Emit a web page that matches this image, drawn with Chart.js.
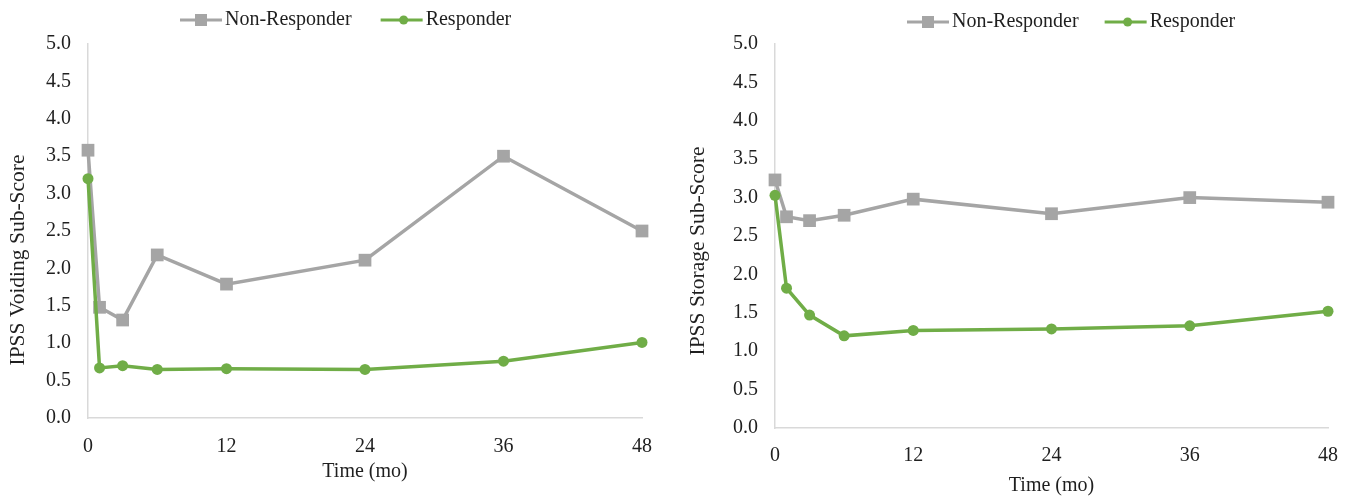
<!DOCTYPE html>
<html>
<head>
<meta charset="utf-8">
<script src="https://cdn.jsdelivr.net/npm/chart.js@4.4.0/dist/chart.umd.min.js"></script>
<style>
    body { margin: 0; background: #fff; }
    .painel { position: absolute; top: 0; }
</style>
</head>
<body>
<div class="painel" style="left:0px"><canvas id="grafVoiding" width="680" height="498"></canvas></div>
<div class="painel" style="left:680px"><canvas id="grafStorage" width="675" height="498"></canvas></div>
<script>
const meses = [0, 1, 3, 6, 12, 24, 36, 48];
const ticksX = [0, 12, 24, 36, 48];
const ticksY = [0, 0.5, 1, 1.5, 2, 2.5, 3, 3.5, 4, 4.5, 5];

const voidingNaoResp = [3.58, 1.48, 1.31, 2.18, 1.79, 2.11, 3.50, 2.50];
const voidingResp = [3.20, 0.67, 0.70, 0.65, 0.66, 0.65, 0.76, 1.01];

const storageNaoResp = [3.23, 2.75, 2.70, 2.77, 2.98, 2.79, 3.00, 2.94];
const storageResp = [3.03, 1.82, 1.47, 1.20, 1.27, 1.29, 1.33, 1.52];

const CINZA = '#A5A5A5';
const VERDE = '#70AD47';
const TEXTO = '#1F1F1F';
const FONTE = '"Liberation Serif", "Times New Roman", serif';

// legenda com linha + marcador e titulo do eixo y (posicao livre)
const extras = {
    id: 'extras',
    afterDraw(chart, args, opts) {
        const ctx = chart.ctx;
        ctx.save();
        ctx.font = '20px ' + FONTE;
        ctx.textBaseline = 'middle';
        let x = opts.legX;
        const y = opts.legY;
        chart.data.datasets.forEach(function (ds) {
            ctx.strokeStyle = ds.borderColor;
            ctx.lineWidth = 3;
            ctx.beginPath();
            ctx.moveTo(x, y);
            ctx.lineTo(x + 42, y);
            ctx.stroke();
            ctx.fillStyle = ds.borderColor;
            if (ds.pointStyle === 'rect') {
                ctx.fillRect(x + 21 - 6, y - 6, 12, 12);
            } else {
                ctx.beginPath();
                ctx.arc(x + 23, y, 4.5, 0, Math.PI * 2);
                ctx.fill();
            }
            ctx.fillStyle = TEXTO;
            ctx.textAlign = 'left';
            ctx.fillText(ds.label, x + 45, y);
            x += 45 + ctx.measureText(ds.label).width + opts.legGap;
        });

        ctx.font = '21.5px ' + FONTE;
        ctx.translate(18, opts.tituloYc);
        ctx.rotate(-Math.PI / 2);
        ctx.textAlign = 'center';
        ctx.fillText(opts.tituloY, 0, 0);
        ctx.restore();
    }
};

function criarGrafico(id, naoResp, resp, cfg) {
    new Chart(document.getElementById(id), {
        type: 'line',
        data: {
            labels: meses,
            datasets: [{
                label: 'Non-Responder',
                data: meses.map((m, i) => ({ x: m, y: naoResp[i] })),
                borderColor: CINZA,
                backgroundColor: CINZA,
                borderWidth: 3.5,
                pointStyle: 'rect',
                pointRadius: 9,
                pointBorderWidth: 0,
                order: 1,
                clip: false
            },
            {
                label: 'Responder',
                data: meses.map((m, i) => ({ x: m, y: resp[i] })),
                borderColor: VERDE,
                backgroundColor: VERDE,
                borderWidth: 3.5,
                pointStyle: 'circle',
                pointRadius: 5.5,
                pointBorderWidth: 0,
                order: 0,
                clip: false
            }]
        },
        options: {
            responsive: false,
            animation: false,
            layout: { padding: { left: 0, right: cfg.dir, top: 44, bottom: 0 } },
            plugins: {
                legend: { display: false },
                tooltip: { enabled: false },
                extras: cfg.extras
            },
            scales: {
                x: {
                    type: 'linear',
                    min: 0,
                    max: 48,
                    afterBuildTicks: function (s) { s.ticks = ticksX.map(v => ({ value: v })); },
                    afterFit: function (s) { s.height = cfg.altX; },
                    grid: { display: false, drawTicks: false },
                    border: { display: true, color: '#D9D9D9', width: 1.5 },
                    ticks: { padding: cfg.padTickX, color: TEXTO, font: { family: FONTE, size: 20 } },
                    title: {
                        display: true,
                        text: 'Time (mo)',
                        color: TEXTO,
                        font: { family: FONTE, size: 20 },
                        padding: { top: 0, bottom: cfg.padTitulo }
                    }
                },
                y: {
                    min: 0,
                    max: 5,
                    afterBuildTicks: function (s) { s.ticks = ticksY.map(v => ({ value: v })); },
                    afterFit: function (s) { s.width = cfg.largY; },
                    grid: { display: false, drawTicks: false },
                    border: { display: true, color: '#D9D9D9', width: 1.5 },
                    ticks: {
                        padding: 17,
                        color: TEXTO,
                        font: { family: FONTE, size: 20 },
                        callback: v => v.toFixed(1)
                    }
                }
            }
        },
        plugins: [extras]
    });
}

criarGrafico('grafVoiding', voidingNaoResp, voidingResp, {
    dir: 38, altX: 80, largY: 88, padTitulo: 14, padTickX: 17,
    extras: { legX: 180, legY: 20, legGap: 29, tituloY: 'IPSS Voiding Sub-Score', tituloYc: 260 }
});

criarGrafico('grafStorage', storageNaoResp, storageResp, {
    dir: 27, altX: 70, largY: 95, padTitulo: 0, padTickX: 16,
    extras: { legX: 227, legY: 22, legGap: 26, tituloY: 'IPSS Storage Sub-Score', tituloYc: 251 }
});
</script>
</body>
</html>
